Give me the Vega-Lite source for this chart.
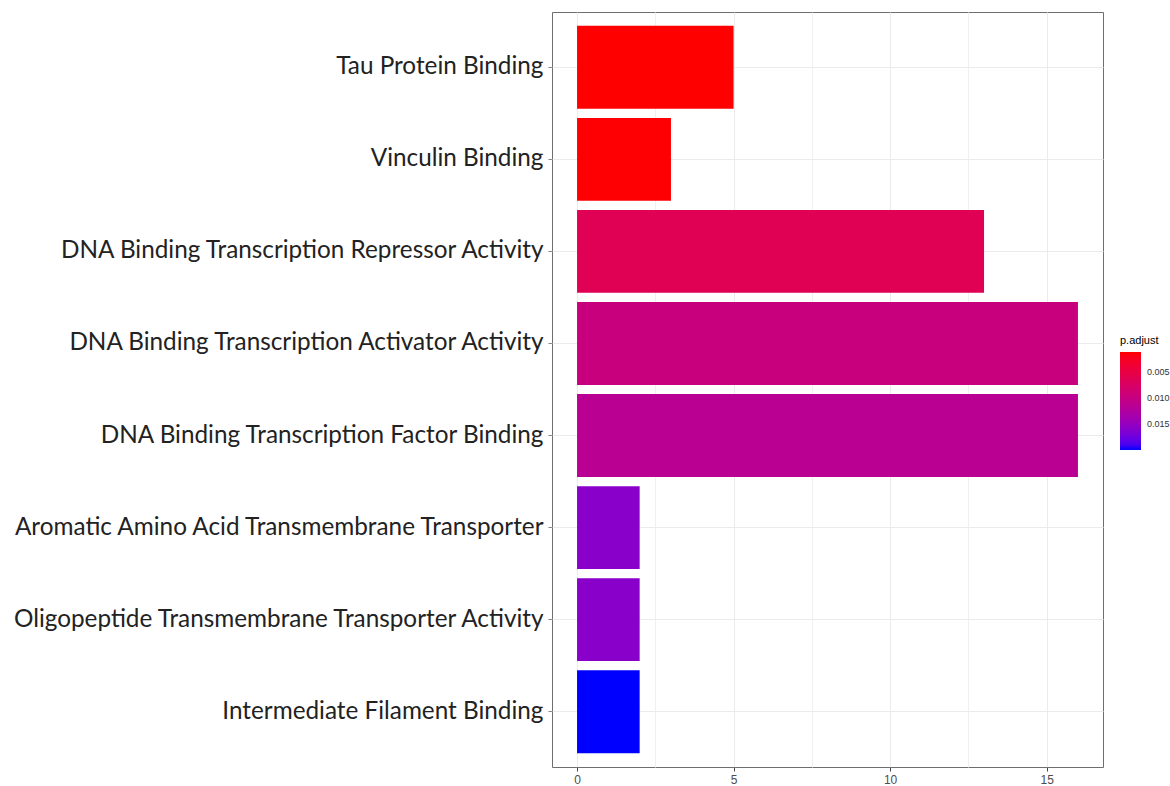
{
  "$schema": "https://vega.github.io/schema/vega-lite/v6.json",
  "width": 551,
  "height": 755,
  "autosize": "none",
  "padding": {"left": 552, "top": 12, "right": 67, "bottom": 19},
  "background": "white",
  "config": {
    "view": {"stroke": "#6e6e6e", "strokeWidth": 1},
    "axis": {"gridColor": "#ebebeb", "gridWidth": 1}
  },
  "data": {
    "values": [
      {"term": "Tau Protein Binding", "count": 5, "padj": 0.0012},
      {"term": "Vinculin Binding", "count": 3, "padj": 0.0013},
      {"term": "DNA Binding Transcription Repressor Activity", "count": 13, "padj": 0.0063},
      {"term": "DNA Binding Transcription Activator Activity", "count": 16, "padj": 0.0097},
      {"term": "DNA Binding Transcription Factor Binding", "count": 16, "padj": 0.0115},
      {"term": "Aromatic Amino Acid Transmembrane Transporter", "count": 2, "padj": 0.0159},
      {"term": "Oligopeptide Transmembrane Transporter Activity", "count": 2, "padj": 0.0159},
      {"term": "Intermediate Filament Binding", "count": 2, "padj": 0.0200}
    ]
  },
  "layer": [
    {
      "mark": {"type": "bar", "opacity": 0},
      "encoding": {
        "x": {
          "field": "count", "type": "quantitative",
          "scale": {"domain": [-0.8, 16.8], "nice": false, "zero": false},
          "axis": {
            "orient": "top", "values": [2.5, 7.5, 12.5], "labels": false, "ticks": false,
            "domain": false, "title": null, "grid": true, "gridColor": "#f0f0f0"
          }
        },
        "y": {"field": "term", "type": "nominal", "sort": null,
              "scale": {"paddingInner": 0.1, "paddingOuter": 0.15}}
      }
    },
    {
      "mark": {"type": "bar"},
      "encoding": {
        "x": {
          "field": "count", "type": "quantitative",
          "scale": {"domain": [-0.8, 16.8], "nice": false, "zero": false},
          "axis": {
            "orient": "bottom", "values": [0, 5, 10, 15], "title": null, "grid": true,
            "domain": false, "tickColor": "#444444", "tickSize": 4,
            "labelFont": "Liberation Sans", "labelFontSize": 12, "labelColor": "#4d4d4d", "labelPadding": 3
          }
        },
        "y": {
          "field": "term", "type": "nominal", "sort": null,
          "scale": {"paddingInner": 0.1, "paddingOuter": 0.15},
          "axis": {
            "title": null, "grid": true, "bandPosition": 0.5, "domain": false,
            "tickColor": "#888888", "tickSize": 4, "labelPadding": 5,
            "labelFont": "Lato", "labelFontSize": 24.3, "labelColor": "#222222", "labelLimit": 600
          }
        },
        "color": {
          "field": "padj", "type": "quantitative",
          "scale": {"domain": [0.02, 0.0012], "range": ["#0000ff", "#ff0000"], "interpolate": "lab"},
          "legend": {
            "orient": "none", "legendX": 568, "legendY": 323,
            "title": "p.adjust", "titleFont": "Liberation Sans", "titleFontSize": 11,
            "titleFontWeight": "normal", "titleColor": "#000000", "titlePadding": 6,
            "values": [0.005, 0.01, 0.015], "format": ".3f",
            "gradientLength": 98, "gradientThickness": 21, "gradientStrokeWidth": 0,
            "labelFont": "Liberation Sans", "labelFontSize": 9, "labelColor": "#333333", "labelOffset": 6
          }
        }
      }
    }
  ],
  "resolve": {"axis": {"x": "independent"}}
}
